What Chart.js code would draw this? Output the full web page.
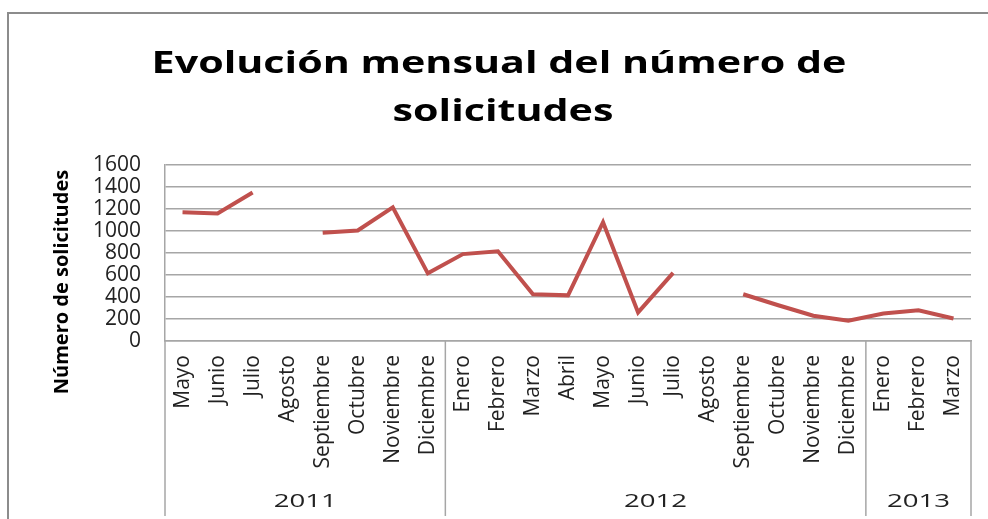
<!DOCTYPE html>
<html>
<head>
<meta charset="utf-8">
<script src="https://cdn.jsdelivr.net/npm/chart.js@4.4.0/dist/chart.umd.min.js"></script>
<style>
  html, body { margin: 0; padding: 0; background: #fff; }
  #wrap { width: 988px; height: 519px; position: relative; }
</style>
</head>
<body>
<div id="wrap"><canvas id="graphique"></canvas></div>
<script>
// meses (mayo 2011 - marzo 2013)
const meses = ['Mayo', 'Junio', 'Julio', 'Agosto', 'Septiembre', 'Octubre', 'Noviembre', 'Diciembre',
    'Enero', 'Febrero', 'Marzo', 'Abril', 'Mayo', 'Junio', 'Julio', 'Agosto', 'Septiembre', 'Octubre', 'Noviembre', 'Diciembre',
    'Enero', 'Febrero', 'Marzo'];
const solicitudes = [1170, 1160, 1350, null, 985, 1005, 1215, 615,
    790, 815, 425, 415, 1080, 260, 620, null, 425, 325, 230, 185,
    250, 280, 205];
const anios = ['2011', '2012', '2013'];
const inicioAnio = [0, 8, 20]; // indice del primer mes de cada año

const titulo = ['Evolución mensual del número de', 'solicitudes'];
const tituloEje = 'Número de solicitudes';

const gris = '#a6a6a6';

// texto un poco estirado a lo ancho, como en el original
function textoAncho(c, txt, x, y, esc) {
    c.save();
    c.translate(x, y);
    c.scale(esc, 1);
    c.fillText(txt, 0, 0);
    c.restore();
}

// marco, titulo, titulo del eje y, separadores de años
const decoracion = {
    id: 'decoracion',
    beforeDraw(chart) {
        const c = chart.ctx;
        c.save();
        c.strokeStyle = '#8c8c8c';
        c.lineWidth = 2;
        c.strokeRect(8, 13, 1100, 700);
        c.restore();
    },
    afterDraw(chart) {
        const c = chart.ctx;
        const x = chart.scales.x;
        const area = chart.chartArea;
        c.save();
        // titulo
        c.fillStyle = '#000';
        c.textAlign = 'center';
        c.textBaseline = 'alphabetic';
        c.font = 'bold 31px "Open Sans"';
        textoAncho(c, titulo[0], 499, 73, 1.33);
        textoAncho(c, titulo[1], 503, 121, 1.33);

        // titulo eje y
        c.save();
        c.translate(68, 282);
        c.rotate(-Math.PI / 2);
        c.font = 'bold 20px "Open Sans"';
        c.fillText(tituloEje, 0, 0);
        c.restore();

        // separadores de años
        const paso = x.getPixelForValue(1) - x.getPixelForValue(0);
        const bordes = inicioAnio.map(i => x.getPixelForValue(i) - paso / 2);
        bordes.push(x.getPixelForValue(meses.length - 1) + paso / 2);
        c.strokeStyle = gris;
        c.lineWidth = 1.5;
        bordes.forEach(b => {
            c.beginPath();
            c.moveTo(b, area.bottom);
            c.lineTo(b, 516);
            c.stroke();
        });
        c.fillStyle = '#222';
        c.font = '19px "Open Sans"';
        for (let i = 0; i < anios.length; i++) {
            textoAncho(c, anios[i], (bordes[i] + bordes[i + 1]) / 2, 507, 1.45);
        }
        c.restore();
    }
};

const ctx = document.getElementById('graphique').getContext('2d');
const myChart = new Chart(ctx, {
    type: 'line',
    data: {
        labels: meses,
        datasets: [{
            label: 'Solicitudes',
            data: solicitudes,
            borderColor: '#c0504d',
            backgroundColor: '#c0504d',
            borderWidth: 4,
            pointRadius: 0,
            spanGaps: false,
            tension: 0
        }]
    },
    options: {
        responsive: true,
        maintainAspectRatio: false,
        animation: false,
        layout: { padding: { top: 165, right: 17, left: 0, bottom: 0 } },
        plugins: {
            legend: { display: false },
            title: { display: false },
            tooltip: { enabled: false }
        },
        scales: {
            x: {
                offset: true,
                grid: { display: false },
                border: { display: true, color: gris, width: 1.5 },
                ticks: {
                    autoSkip: false,
                    minRotation: 90,
                    maxRotation: 90,
                    padding: 6,
                    color: '#222',
                    font: { family: 'Open Sans', size: 21 }
                },
                afterFit(scale) { scale.height = 178; }
            },
            y: {
                min: 0,
                max: 1600,
                ticks: {
                    stepSize: 200,
                    autoSkip: false,
                    padding: 24,
                    color: '#222',
                    font: { family: 'Open Sans', size: 21 },
                    callback: v => String(v)
                },
                grid: { color: gris, lineWidth: 1.5, drawTicks: false },
                border: { display: true, color: gris, width: 1.5 },
                afterFit(scale) { scale.width = 165; }
            }
        }
    },
    plugins: [decoracion]
});
</script>
</body>
</html>
